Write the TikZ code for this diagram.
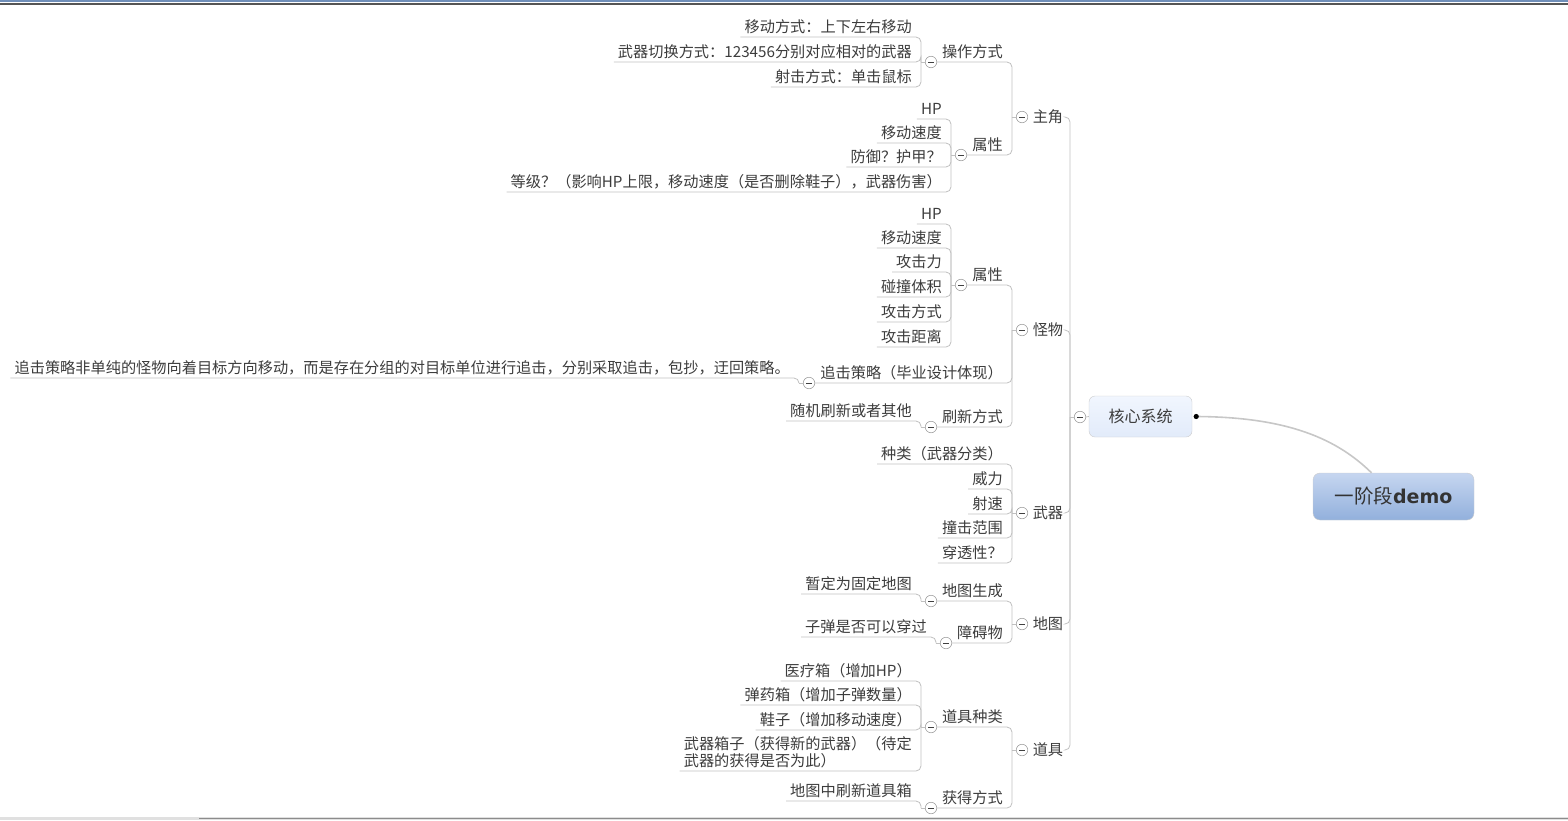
\documentclass[tikz,border=0pt]{standalone}
\usepackage{fontspec}
\setmainfont{Noto Sans CJK SC}
\newfontfamily\demofont{DejaVu Sans}
\usetikzlibrary{positioning}

\definecolor{txt}{RGB}{60,60,60}
\definecolor{linegray}{RGB}{192,192,192}
\definecolor{togglegray}{RGB}{160,160,160}
\definecolor{roottop}{RGB}{198,214,240}
\definecolor{rootbottom}{RGB}{146,176,220}
\definecolor{coretop}{RGB}{241,246,254}
\definecolor{corebottom}{RGB}{226,235,250}
\definecolor{topblue}{RGB}{112,143,185}
\definecolor{topgray}{RGB}{85,85,85}

\begin{document}
\begin{tikzpicture}[x=1pt, y=-1pt,
    leaf/.style={anchor=south east, inner xsep=4pt, inner ysep=1pt,
        text height=12pt, text depth=3pt, text=txt,
        font=\fontsize{15.2}{17}\selectfont},
    topic/.style={leaf},
    main/.style={inner xsep=2pt, inner ysep=1pt, text=txt,
        font=\fontsize{15.2}{17}\selectfont},
    toggle/.style={circle, draw=togglegray, fill=white, line width=0.6pt,
        minimum size=11.5pt, inner sep=0pt,
        path picture={\draw[black!75, line width=1pt]
            ([xshift=-3pt]path picture bounding box.center) --
            ([xshift=3pt]path picture bounding box.center);}},
    link/.style={draw=linegray, line width=0.8pt, rounded corners=5pt},
    rootlink/.style={draw=black!22, line width=1.6pt}]

\useasboundingbox (0,0) rectangle (1568,820);

% window frame
\fill[topblue] (0,0) rectangle (1568,2);
\fill[topgray] (0,3.3) rectangle (1568,5);
\fill[black!12] (0,817) rectangle (1568,820);
\draw[black!45, line width=0.8pt] (199,818) -- (1568,818);

% root and central topic
\node[draw=black!20, rounded corners=7pt, top color=roottop,
    bottom color=rootbottom, minimum width=161pt, minimum height=47pt,
    text=black!80] (root) at (1393.5,496.5)
    {\fontsize{19.5}{22}\selectfont 一阶段{\demofont\bfseries\fontsize{19}{22}\selectfont demo}};
\node[draw=black!20, rounded corners=6pt, top color=coretop,
    bottom color=corebottom, minimum width=103pt, minimum height=41pt,
    text=txt, font=\fontsize{16}{18}\selectfont] (core) at (1140.5,416.5) {核心系统};

\draw[rootlink] ([xshift=4pt]core.east) .. controls (1290,417) and (1338,440)
    .. ([xshift=-22pt]root.north);
\fill[black] ([xshift=4pt]core.east) circle (2.6pt);

\node[toggle] (c-core) at (1080,417) {};
\coordinate (sp) at (1070,417);
\draw[link] (sp) -- (c-core.west);
\draw[link] (c-core.east) -- (core.west);

% main topics
\node[toggle] (c-zj) at (1022,117) {};
\node[toggle] (c-gw) at (1022,330) {};
\node[toggle] (c-wq) at (1022,513) {};
\node[toggle] (c-dt) at (1022,624) {};
\node[toggle] (c-dj) at (1022,750) {};
\node[main, right=2.5pt of c-zj] (zj) {主角};
\node[main, right=2.5pt of c-gw] (gw) {怪物};
\node[main, right=2.5pt of c-wq] (wq) {武器};
\node[main, right=2.5pt of c-dt] (dt) {地图};
\node[main, right=2.5pt of c-dj] (dj) {道具};

\draw[link] (zj.east) -| (sp);
\draw[link] (gw.east) -| (sp);
\draw[link] (wq.east) -| (sp);
\draw[link] (dt.east) -| (sp);
\draw[link] (dj.east) -| (sp);

\draw[link] ([xshift=-4pt]c-zj.west) -- (c-zj.west);
\draw[link] ([xshift=-4pt]c-gw.west) -- (c-gw.west);
\draw[link] ([xshift=-4pt]c-wq.west) -- (c-wq.west);
\draw[link] ([xshift=-4pt]c-dt.west) -- (c-dt.west);
\draw[link] ([xshift=-4pt]c-dj.west) -- (c-dj.west);

% second level
\node[toggle] (c-czfs) at (931,62) {};
\node[toggle] (c-zjsx) at (961,155) {};
\node[toggle] (c-gwsx) at (961,285) {};
\node[toggle] (c-zjcl) at (809,383) {};
\node[toggle] (c-sxfs) at (931,427) {};
\node[toggle] (c-dtsc) at (931,601) {};
\node[toggle] (c-zaw) at (946,643) {};
\node[toggle] (c-djzl) at (931,727) {};
\node[toggle] (c-hdfs) at (931,808) {};

\node[topic] (czfs) at (1007,62) {操作方式};
\node[topic] (zjsx) at (1007,155) {属性};
\node[topic] (gwsx) at (1007,285) {属性};
\node[topic] (zjcl) at (1007,383) {追击策略（毕业设计体现）};
\node[topic] (sxfs) at (1007,427) {刷新方式};
\node[topic] (dtsc) at (1007,601) {地图生成};
\node[topic] (zaw) at (1007,643) {障碍物};
\node[topic] (djzl) at (1007,727) {道具种类};
\node[topic] (hdfs) at (1007,808) {获得方式};

\draw[link] (c-czfs.east) -| ([xshift=-4pt]c-zj.west);
\draw[link] (c-zjsx.east) -| ([xshift=-4pt]c-zj.west);
\draw[link] (c-gwsx.east) -| ([xshift=-4pt]c-gw.west);
\draw[link] (c-zjcl.east) -| ([xshift=-4pt]c-gw.west);
\draw[link] (c-sxfs.east) -| ([xshift=-4pt]c-gw.west);
\draw[link] (c-dtsc.east) -| ([xshift=-4pt]c-dt.west);
\draw[link] (c-zaw.east) -| ([xshift=-4pt]c-dt.west);
\draw[link] (c-djzl.east) -| ([xshift=-4pt]c-dj.west);
\draw[link] (c-hdfs.east) -| ([xshift=-4pt]c-dj.west);

\draw[link] ([xshift=-4pt]c-czfs.west) -- (c-czfs.west);
\draw[link] ([xshift=-4pt]c-zjsx.west) -- (c-zjsx.west);
\draw[link] ([xshift=-4pt]c-gwsx.west) -- (c-gwsx.west);
\draw[link] ([xshift=-4pt]c-zjcl.west) -- (c-zjcl.west);
\draw[link] ([xshift=-4pt]c-sxfs.west) -- (c-sxfs.west);
\draw[link] ([xshift=-4pt]c-dtsc.west) -- (c-dtsc.west);
\draw[link] ([xshift=-4pt]c-zaw.west) -- (c-zaw.west);
\draw[link] ([xshift=-4pt]c-djzl.west) -- (c-djzl.west);
\draw[link] ([xshift=-4pt]c-hdfs.west) -- (c-hdfs.west);

% leaves
\node[leaf] (l-cz1) at (916,37) {移动方式：上下左右移动};
\node[leaf] (l-cz2) at (916,62) {武器切换方式：123456分别对应相对的武器};
\node[leaf] (l-cz3) at (916,87) {射击方式：单击鼠标};

\node[leaf] (l-zs1) at (946,119) {HP};
\node[leaf] (l-zs2) at (946,143) {移动速度};
\node[leaf] (l-zs3) at (946,167) {防御？护甲？};
\node[leaf] (l-zs4) at (946,192) {等级？（影响HP上限，移动速度（是否删除鞋子），武器伤害）};

\node[leaf] (l-gs1) at (946,224) {HP};
\node[leaf] (l-gs2) at (946,248) {移动速度};
\node[leaf] (l-gs3) at (946,272) {攻击力};
\node[leaf] (l-gs4) at (946,297) {碰撞体积};
\node[leaf] (l-gs5) at (946,322) {攻击方式};
\node[leaf] (l-gs6) at (946,347) {攻击距离};

\node[leaf] (l-zc1) at (794,378) {追击策略非单纯的怪物向着目标方向移动，而是存在分组的对目标单位进行追击，分别采取追击，包抄，迂回策略。};
\node[leaf] (l-sx1) at (916,421) {随机刷新或者其他};

\node[leaf] (l-wq1) at (1007,464) {种类（武器分类）};
\node[leaf] (l-wq2) at (1007,489) {威力};
\node[leaf] (l-wq3) at (1007,514) {射速};
\node[leaf] (l-wq4) at (1007,538) {撞击范围};
\node[leaf] (l-wq5) at (1007,563) {穿透性？};

\node[leaf] (l-ds1) at (916,594) {暂定为固定地图};
\node[leaf] (l-za1) at (931,637) {子弹是否可以穿过};

\node[leaf] (l-dz1) at (916,681) {医疗箱（增加HP）};
\node[leaf] (l-dz2) at (916,705) {弹药箱（增加子弹数量）};
\node[leaf] (l-dz3) at (916,730) {鞋子（增加移动速度）};
\node[leaf, align=left, text height=29pt] (l-dz4) at (916,771)
    {武器箱子（获得新的武器）（待定\\武器的获得是否为此）};
\node[leaf] (l-hd1) at (916,801) {地图中刷新道具箱};

\draw[link] (l-cz1.south west) -| ([xshift=-4pt]c-czfs.west);
\draw[link] (l-cz2.south west) -| ([xshift=-4pt]c-czfs.west);
\draw[link] (l-cz3.south west) -| ([xshift=-4pt]c-czfs.west);

\draw[link] (l-zs1.south west) -| ([xshift=-4pt]c-zjsx.west);
\draw[link] (l-zs2.south west) -| ([xshift=-4pt]c-zjsx.west);
\draw[link] (l-zs3.south west) -| ([xshift=-4pt]c-zjsx.west);
\draw[link] (l-zs4.south west) -| ([xshift=-4pt]c-zjsx.west);

\draw[link] (l-gs1.south west) -| ([xshift=-4pt]c-gwsx.west);
\draw[link] (l-gs2.south west) -| ([xshift=-4pt]c-gwsx.west);
\draw[link] (l-gs3.south west) -| ([xshift=-4pt]c-gwsx.west);
\draw[link] (l-gs4.south west) -| ([xshift=-4pt]c-gwsx.west);
\draw[link] (l-gs5.south west) -| ([xshift=-4pt]c-gwsx.west);
\draw[link] (l-gs6.south west) -| ([xshift=-4pt]c-gwsx.west);

\draw[link] (l-zc1.south west) -| ([xshift=-4pt]c-zjcl.west);
\draw[link] (l-sx1.south west) -| ([xshift=-4pt]c-sxfs.west);

\draw[link] (l-wq1.south west) -| ([xshift=-4pt]c-wq.west);
\draw[link] (l-wq2.south west) -| ([xshift=-4pt]c-wq.west);
\draw[link] (l-wq3.south west) -| ([xshift=-4pt]c-wq.west);
\draw[link] (l-wq4.south west) -| ([xshift=-4pt]c-wq.west);
\draw[link] (l-wq5.south west) -| ([xshift=-4pt]c-wq.west);

\draw[link] (l-ds1.south west) -| ([xshift=-4pt]c-dtsc.west);
\draw[link] (l-za1.south west) -| ([xshift=-4pt]c-zaw.west);

\draw[link] (l-dz1.south west) -| ([xshift=-4pt]c-djzl.west);
\draw[link] (l-dz2.south west) -| ([xshift=-4pt]c-djzl.west);
\draw[link] (l-dz3.south west) -| ([xshift=-4pt]c-djzl.west);
\draw[link] (l-dz4.south west) -| ([xshift=-4pt]c-djzl.west);
\draw[link] (l-hd1.south west) -| ([xshift=-4pt]c-hdfs.west);

\end{tikzpicture}
\end{document}
